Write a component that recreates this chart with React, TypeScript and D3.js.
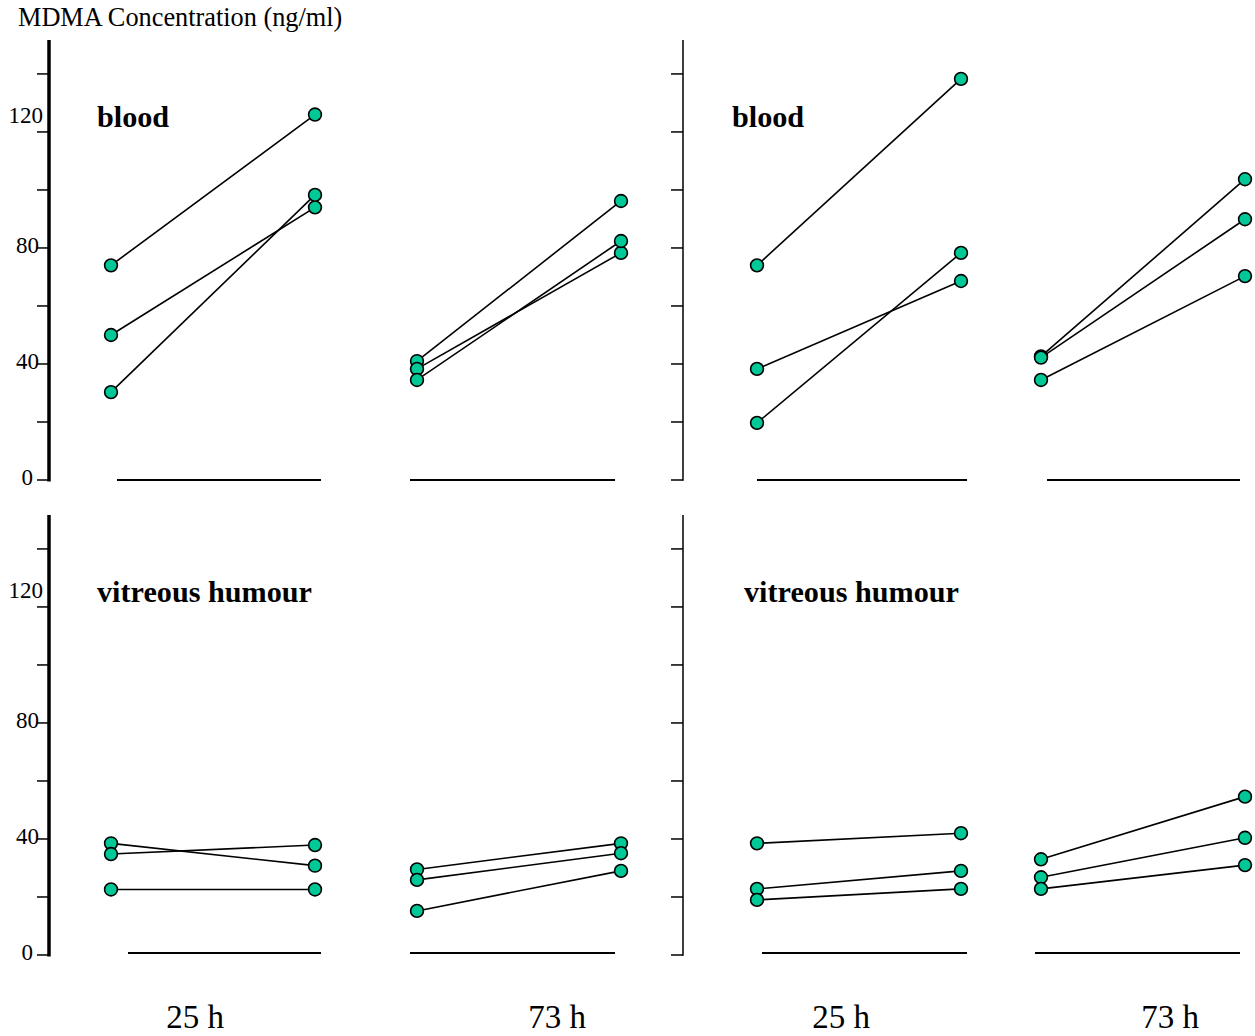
import React from "react";
import * as d3 from "d3";

// ---- Data (ng/ml), each pair = [first sample, second sample] per subject ----
const timeLabels = ["25 h", "73 h", "25 h", "73 h"];
const panelLabels = ["blood", "vitreous humour"];
const yTicks = [0, 20, 40, 60, 80, 100, 120, 140];
const yTickLabels = [0, 40, 80, 120];

const bloodA25 = [[74, 126], [50, 94], [30.3, 98.3]];
const bloodA73 = [[41, 96.2], [38.3, 78.3], [34.5, 82.4]];
const bloodB25 = [[74, 138.3], [38.3, 68.6], [19.7, 78.3]];
const bloodB73 = [[42.6, 103.7], [42.2, 89.9], [34.5, 70.3]];

const vitA25 = [[38.5, 30.8], [34.8, 37.9], [22.6, 22.6]];
const vitA73 = [[29.5, 38.5], [25.9, 35.1], [15.2, 29]];
const vitB25 = [[38.5, 42], [22.8, 29], [19, 22.8]];
const vitB73 = [[33, 54.6], [26.8, 40.4], [22.8, 31]];

const rows = [
  [bloodA25, bloodA73, bloodB25, bloodB73],
  [vitA25, vitA73, vitB25, vitB73],
];

// ---- Layout ----
const W = 1255;
const H = 1036;
const rowBottoms = [480, 955];
const groupStarts = [111, 417, 757, 1041];
const groupWidth = 204;
const baseSegs = [
  [[117, 321], [410, 615], [757, 967], [1047, 1240]],
  [[128, 321], [410, 615], [762, 967], [1035, 1240]],
];
const axisXs = [49, 683];
const timeLabelX = [195, 557, 841, 1170];
const panelLabelX = [[97, 732], [97, 744]];
const teal = "#00c896";
const serif = "'Liberation Serif', 'Times New Roman', serif";

function labelPos(v: number) {
  if (v === 120) return { x: 43, dy: -9 };
  if (v === 0) return { x: 33, dy: 5 };
  return { x: 39, dy: 5 };
}

export default function App() {
  return (
    <svg
      width={W}
      height={H}
      style={{ position: "absolute", left: 0, top: 0, background: "#fff" }}
      fontFamily={serif}
    >
      <text x={18} y={26} fontSize={26.3} fill="#000">
        MDMA Concentration (ng/ml)
      </text>
      {rows.map((groups, ri) => {
        const y = d3
          .scaleLinear()
          .domain([0, 151.7])
          .range([rowBottoms[ri], rowBottoms[ri] - 440]);
        return (
          <g key={ri}>
            {axisXs.map((ax, ai) => (
              <g key={ai}>
                <line
                  x1={ax}
                  x2={ax}
                  y1={y(151.7)}
                  y2={y(0) + (ai === 0 ? 1.5 : 0.75)}
                  stroke="#000"
                  strokeWidth={ai === 0 ? 3.5 : 1.5}
                />
                {yTicks.map((t) => (
                  <line
                    key={t}
                    x1={ax - 12}
                    x2={ax}
                    y1={y(t)}
                    y2={y(t)}
                    stroke="#000"
                    strokeWidth={1.5}
                  />
                ))}
              </g>
            ))}
            {yTickLabels.map((v) => {
              const p = labelPos(v);
              return (
                <text
                  key={v}
                  x={p.x}
                  y={y(v) + p.dy}
                  fontSize={23}
                  textAnchor="end"
                  fill="#000"
                >
                  {v}
                </text>
              );
            })}
            {panelLabelX[ri].map((px, pi) => (
              <text
                key={pi}
                x={px}
                y={rowBottoms[ri] - 353}
                fontSize={30.2}
                fontWeight="bold"
                fill="#000"
              >
                {panelLabels[ri]}
              </text>
            ))}
            {groups.map((pairs, gi) => {
              const x = d3
                .scalePoint<string>()
                .domain(["first", "second"])
                .range([groupStarts[gi], groupStarts[gi] + groupWidth]);
              const line = d3
                .line<[string, number]>()
                .x((d) => x(d[0]) as number)
                .y((d) => y(d[1]));
              const seg = baseSegs[ri][gi];
              return (
                <g key={gi}>
                  <line
                    x1={seg[0]}
                    x2={seg[1]}
                    y1={rowBottoms[ri] - (ri === 1 ? 2 : 0)}
                    y2={rowBottoms[ri] - (ri === 1 ? 2 : 0)}
                    stroke="#000"
                    strokeWidth={1.8}
                  />
                  {pairs.map((p, si) => (
                    <path
                      key={si}
                      d={
                        line([
                          ["first", p[0]],
                          ["second", p[1]],
                        ]) as string
                      }
                      fill="none"
                      stroke="#000"
                      strokeWidth={1.6}
                    />
                  ))}
                  {pairs.map((p, si) =>
                    (["first", "second"] as const).map((k, ki) => (
                      <circle
                        key={si + "-" + k}
                        cx={x(k) as number}
                        cy={y(p[ki])}
                        r={6.4}
                        fill={teal}
                        stroke="#000"
                        strokeWidth={1.6}
                      />
                    ))
                  )}
                </g>
              );
            })}
          </g>
        );
      })}
      {timeLabels.map((t, i) => (
        <text
          key={i}
          x={timeLabelX[i]}
          y={1028}
          fontSize={33}
          textAnchor="middle"
          fill="#000"
        >
          {t}
        </text>
      ))}
    </svg>
  );
}
